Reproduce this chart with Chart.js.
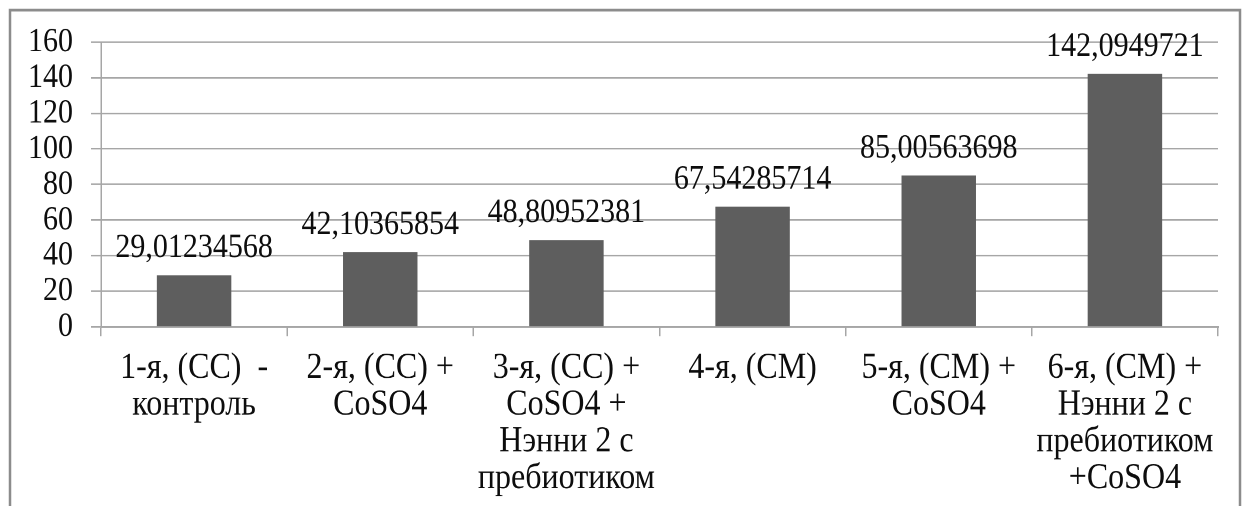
<!DOCTYPE html>
<html>
<head>
<meta charset="utf-8">
<style>
  html, body { margin: 0; padding: 0; background: #ffffff; overflow: hidden; }
  #wrap { width: 1245px; height: 506px; position: relative; }
  #chart { display: block; }
</style>
<script src="https://cdn.jsdelivr.net/npm/chart.js@4/dist/chart.umd.min.js"></script>
</head>
<body>
<div id="wrap"><canvas id="chart" width="1245" height="440"></canvas></div>
<script>
// Groups along the horizontal axis (each entry is a multi-line label)
const categories = [
  ['1-я, (СС)  -', 'контроль'],
  ['2-я, (СС) +', 'CoSO4'],
  ['3-я, (СС) +', 'CoSO4 +', 'Нэнни 2 с', 'пребиотиком'],
  ['4-я, (СМ)'],
  ['5-я, (СМ) +', 'CoSO4'],
  ['6-я, (СМ) +', 'Нэнни 2 с', 'пребиотиком', '+CoSO4']
];

// Measured value for each group
const values = [29.01234568, 42.10365854, 48.80952381, 67.54285714, 85.00563698, 142.0949721];

// Vertical axis ticks
const yTicks = [0, 20, 40, 60, 80, 100, 120, 140, 160];

const FONT = '"Liberation Serif", "Times New Roman", serif';
const TEXT = '#0d0d0d';
const GRID = '#a6a6a6';

// The chart is laid out on a 1245x440 surface and shown 1245x506,
// which gives the tall, narrow lettering of the original figure.
const DRAW_H = 440;
const SHOW_H = 506;

// Writes each value above its bar, with a comma as the decimal separator
const valueLabels = {
  id: 'valueLabels',
  afterDatasetsDraw(chart) {
    const ctx = chart.ctx;
    const meta = chart.getDatasetMeta(0);
    ctx.save();
    ctx.font = '30px ' + FONT;
    ctx.fillStyle = TEXT;
    ctx.textAlign = 'center';
    ctx.textBaseline = 'middle';
    meta.data.forEach((bar, i) => {
      const txt = String(values[i]).replace('.', ',');
      ctx.fillText(txt, bar.x, bar.y - 23.5);
    });
    ctx.restore();
  }
};

// Thin frame around the whole chart
const frame = {
  id: 'frame',
  beforeDraw(chart) {
    const ctx = chart.ctx;
    ctx.save();
    ctx.strokeStyle = '#8c8c8c';
    ctx.lineWidth = 2.5;
    ctx.beginPath();
    ctx.moveTo(10, 460);
    ctx.lineTo(10, 8.7);
    ctx.lineTo(1240, 8.7);
    ctx.lineTo(1240, 460);
    ctx.stroke();
    ctx.restore();
  }
};

const canvas = document.getElementById('chart');
new Chart(canvas, {
  type: 'bar',
  data: {
    labels: categories,
    datasets: [{
      data: values,
      backgroundColor: '#5e5e5e',
      borderWidth: 0,
      categoryPercentage: 1.0,
      barPercentage: 0.4
    }]
  },
  options: {
    responsive: false,
    animation: false,
    devicePixelRatio: 2,
    layout: { padding: { top: 36.5, right: 27, left: 0, bottom: 0 } },
    plugins: {
      legend: { display: false },
      tooltip: { enabled: false }
    },
    scales: {
      x: {
        offset: true,
        grid: {
          offset: true,
          drawOnChartArea: false,
          drawTicks: true,
          tickLength: 8,
          color: GRID,
          lineWidth: 1.5
        },
        border: { display: true, color: GRID, width: 1.5 },
        ticks: {
          font: { family: FONT, size: 32, lineHeight: 1.0 },
          color: TEXT,
          maxRotation: 0,
          minRotation: 0,
          autoSkip: false,
          padding: 12
        },
        afterFit(scale) { scale.height = 155.7; }
      },
      y: {
        min: 0,
        max: 160,
        afterBuildTicks(scale) { scale.ticks = yTicks.map(v => ({ value: v })); },
        grid: {
          color: GRID,
          lineWidth: 1.4,
          tickLength: 10,
          drawTicks: true
        },
        border: { display: true, color: GRID, width: 1.5 },
        ticks: {
          font: { family: FONT, size: 30 },
          color: TEXT,
          padding: 18,
          autoSkip: false
        },
        afterFit(scale) { scale.width = 101; }
      }
    }
  },
  plugins: [frame, valueLabels]
});

// Show the drawing surface at its final on-screen size
canvas.style.width = '1245px';
canvas.style.height = SHOW_H + 'px';
</script>
</body>
</html>
